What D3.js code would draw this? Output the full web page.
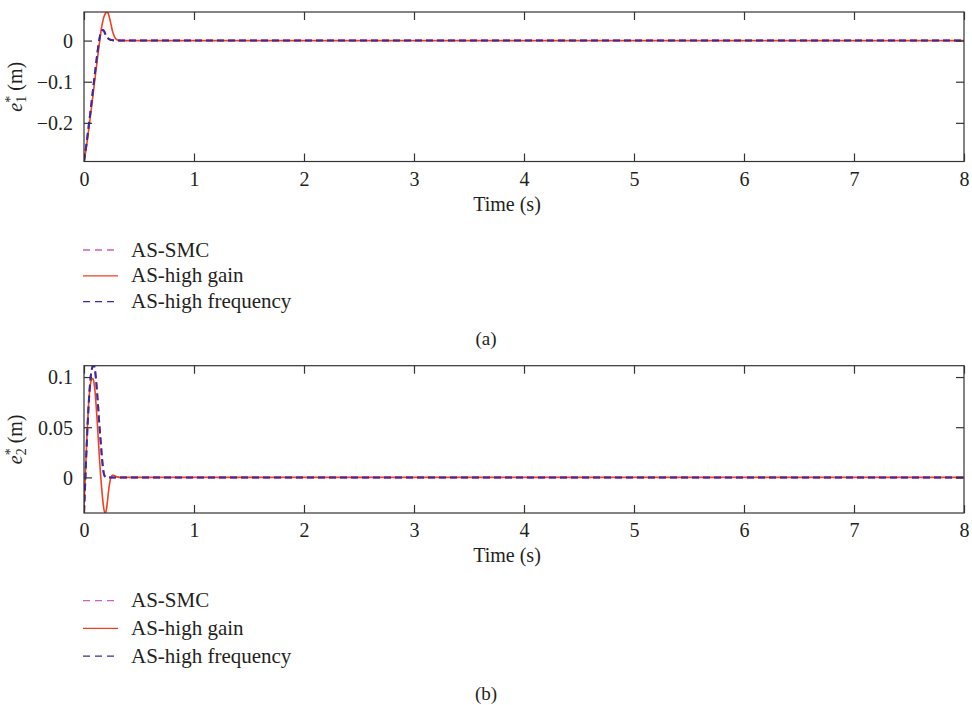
<!DOCTYPE html>
<html>
<head>
<meta charset="utf-8">
<script src="https://cdn.jsdelivr.net/npm/d3@7"></script>
<style>
  html, body { margin: 0; padding: 0; background: #fff; }
  svg { display: block; }
  text { font-family: "Liberation Serif", "DejaVu Serif", serif; fill: #231f20; }
</style>
</head>
<body>
<svg id="fig" width="972" height="705"></svg>
<script>
// ---- data -------------------------------------------------------------
const seriesNames = ["AS-SMC", "AS-high gain", "AS-high frequency"];
const xTicks = [0, 1, 2, 3, 4, 5, 6, 7, 8];

// panel (a): e1* (m)
const timeA = [0, 0.02, 0.04, 0.06, 0.08, 0.10, 0.12, 0.14, 0.16, 0.17, 0.18, 0.20, 0.21, 0.22, 0.24, 0.26, 0.28, 0.30, 0.33, 0.40, 8];
const smcA  = [-0.294, -0.256, -0.214, -0.170, -0.124, -0.078, -0.034, 0.004, 0.024, 0.026, 0.024, 0.012, 0.008, 0.005, 0.002, 0.001, 0.0, 0, 0, 0, 0];
const gainA = [-0.294, -0.262, -0.222, -0.180, -0.136, -0.092, -0.048, -0.006, 0.032, 0.046, 0.057, 0.068, 0.0695, 0.066, 0.046, 0.022, 0.008, 0.002, 0.0, 0, 0];
const freqA = [-0.294, -0.256, -0.214, -0.170, -0.124, -0.078, -0.034, 0.004, 0.024, 0.026, 0.024, 0.012, 0.008, 0.005, 0.002, 0.001, 0.0, 0, 0, 0, 0];
const yTicksA = [-0.2, -0.1, 0];
const yDomainA = [-0.294, 0.0695];

// panel (b): e2* (m)
const timeB = [0, 0.01, 0.02, 0.03, 0.04, 0.05, 0.06, 0.07, 0.08, 0.09, 0.10, 0.11, 0.12, 0.13, 0.14, 0.15, 0.16, 0.17, 0.18, 0.19, 0.20, 0.21, 0.22, 0.23, 0.24, 0.25, 0.26, 0.27, 0.28, 0.29, 0.30, 0.33, 0.36, 0.40, 8];
const smcB  = [-0.035, -0.008, 0.020, 0.046, 0.068, 0.086, 0.099, 0.107, 0.111, 0.1113, 0.107, 0.097, 0.083, 0.068, 0.052, 0.038, 0.024, 0.012, 0.004, 0.001, 0, 0, 0, 0, 0, 0, 0, 0, 0, 0, 0, 0, 0, 0, 0];
const gainB = [-0.028, -0.004, 0.022, 0.048, 0.070, 0.085, 0.094, 0.098, 0.0985, 0.095, 0.086, 0.072, 0.056, 0.038, 0.020, 0.004, -0.010, -0.022, -0.031, -0.0355, -0.034, -0.027, -0.017, -0.008, -0.002, 0.001, 0.002, 0.002, 0.0015, 0.001, 0.0005, 0, 0, 0, 0];
const freqB = [-0.035, -0.008, 0.020, 0.046, 0.068, 0.086, 0.099, 0.107, 0.111, 0.1113, 0.107, 0.097, 0.083, 0.068, 0.052, 0.038, 0.024, 0.012, 0.004, 0.001, 0, 0, 0, 0, 0, 0, 0, 0, 0, 0, 0, 0, 0, 0, 0];
const yTicksB = [0, 0.05, 0.1];
const yDomainB = [-0.0355, 0.1113];

// ---- drawing ----------------------------------------------------------
const svg = d3.select("#fig");
svg.append("rect").attr("width", 972).attr("height", 705).attr("fill", "#fff");

const fmt = v => (v < 0 ? "\u2212" : "") + String(Math.abs(v));
const axisColor = "#333";
const tickLen = 8;

function panel(opt) {
  const x = d3.scaleLinear().domain([0, 8]).range([84, 964]);
  const y = d3.scaleLinear().domain(opt.yDomain).range([opt.bottom, opt.top]);
  const g = svg.append("g");

  const clipId = "clip" + opt.id;
  svg.append("clipPath").attr("id", clipId)
    .append("rect").attr("x", 84).attr("y", opt.top)
    .attr("width", 880).attr("height", opt.bottom - opt.top);

  // series
  const line = d3.line().x(d => x(d[0])).y(d => y(d[1])).curve(d3.curveMonotoneX);
  const plotG = g.append("g").attr("clip-path", `url(#${clipId})`);
  opt.series.forEach(s => {
    plotG.append("path")
      .datum(opt.time.map((t, k) => [t, s.values[k]]))
      .attr("d", line)
      .attr("fill", "none")
      .attr("stroke", s.color)
      .attr("stroke-width", s.width)
      .attr("stroke-dasharray", s.dash || null);
  });

  // box + inward ticks
  g.append("rect").attr("x", 84).attr("y", opt.top)
    .attr("width", 880).attr("height", opt.bottom - opt.top)
    .attr("fill", "none").attr("stroke", axisColor).attr("stroke-width", 1.2);

  const xb = d3.axisBottom(x).tickValues(xTicks).tickSize(-tickLen).tickFormat(d3.format("d"));
  const xt = d3.axisTop(x).tickValues(xTicks).tickSize(-tickLen).tickFormat("");
  const yl = d3.axisLeft(y).tickValues(opt.yTicks).tickSize(-tickLen).tickFormat(fmt);
  const yr = d3.axisRight(y).tickValues(opt.yTicks).tickSize(-tickLen).tickFormat("");

  const style = sel => {
    sel.select(".domain").remove();
    sel.selectAll(".tick line").attr("stroke", axisColor).attr("stroke-width", 1.2);
    sel.selectAll(".tick text").attr("font-family", "Liberation Serif").attr("font-size", 20).attr("fill", "#231f20");
  };
  g.append("g").attr("transform", `translate(0,${opt.bottom})`).call(xb).call(style)
    .selectAll(".tick text").attr("dy", 0).attr("y", 24);
  g.append("g").attr("transform", `translate(0,${opt.top})`).call(xt).call(style);
  g.append("g").attr("transform", "translate(84,0)").call(yl).call(style)
    .selectAll(".tick text").attr("x", -11).attr("dy", "0.34em");
  g.append("g").attr("transform", "translate(964,0)").call(yr).call(style);

  // x label
  g.append("text").attr("x", 507).attr("y", opt.bottom + 49)
    .attr("text-anchor", "middle").attr("font-size", 20).text("Time (s)");

  // y label e_n^* (m)
  const lab = g.append("text")
    .attr("transform", `translate(22,${(opt.top + opt.bottom) / 2}) rotate(-90)`)
    .attr("text-anchor", "middle").attr("font-size", 20);
  lab.append("tspan").attr("font-style", "italic").text("e");
  lab.append("tspan").attr("font-size", 14).attr("dy", 4).text(opt.sub);
  lab.append("tspan").attr("font-size", 14).attr("dx", -7).attr("dy", -11).text("*");
  lab.append("tspan").attr("dy", 7).text("\u00a0(m)");

  // legend
  const lg = g.append("g");
  opt.series.forEach((s, i) => {
    const ly = opt.legendY + i * opt.legendStep;
    lg.append("line").attr("x1", 83).attr("x2", 118).attr("y1", ly).attr("y2", ly)
      .attr("stroke", s.color).attr("stroke-width", 1.3)
      .attr("stroke-dasharray", s.dash ? "7,5" : null);
    lg.append("text").attr("x", 131).attr("y", ly + 6.5)
      .attr("font-size", 21).text(seriesNames[i]);
  });

  // caption
  g.append("text").attr("x", 486).attr("y", opt.captionY)
    .attr("text-anchor", "middle").attr("font-size", 19).text(opt.caption);
}

const colSMC = "#cc5fbf";
const colGain = "#f2401f";
const colFreq = "#3a2a9c";

panel({
  id: "a", top: 12, bottom: 161.5, yDomain: yDomainA, yTicks: yTicksA, sub: "1",
  time: timeA,
  series: [
    { values: smcA,  color: colSMC,  width: 2,   dash: "7,4" },
    { values: gainA, color: colGain, width: 1.6 },
    { values: freqA, color: colFreq, width: 2,   dash: "7,4" }
  ],
  legendY: 250, legendStep: 25.8, caption: "(a)", captionY: 345
});

panel({
  id: "b", top: 365.7, bottom: 513, yDomain: yDomainB, yTicks: yTicksB, sub: "2",
  time: timeB,
  series: [
    { values: smcB,  color: colSMC,  width: 2,   dash: "7,4" },
    { values: gainB, color: colGain, width: 1.6 },
    { values: freqB, color: colFreq, width: 2,   dash: "7,4" }
  ],
  legendY: 600.7, legendStep: 27.7, caption: "(b)", captionY: 700
});
</script>
</body>
</html>
